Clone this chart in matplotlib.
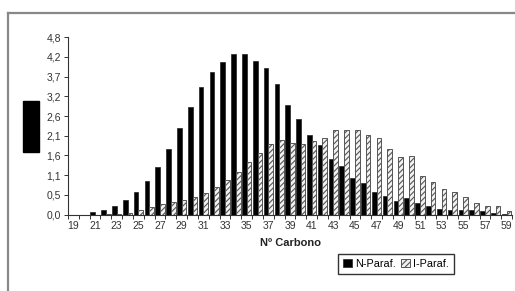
import numpy as np
import matplotlib
matplotlib.use("Agg")
import matplotlib.pyplot as plt
from matplotlib.lines import Line2D
from matplotlib.patches import Rectangle

plt.rcParams['font.family'] = ['Liberation Sans', 'DejaVu Sans']
plt.rcParams['hatch.linewidth'] = 0.8

carbons = list(range(19, 60))
n_paraf = [0, 0, 0.06, 0.13, 0.24, 0.40, 0.62, 0.91, 1.30, 1.77, 2.35, 2.92, 3.46,
           3.87, 4.14, 4.35, 4.35, 4.16, 3.98, 3.53, 2.96, 2.59, 2.14, 1.89, 1.51,
           1.31, 1.00, 0.85, 0.61, 0.51, 0.37, 0.44, 0.30, 0.22, 0.15, 0.13, 0.12,
           0.11, 0.09, 0.05, 0.02]
i_paraf = [0, 0, 0, 0.01, 0.02, 0.05, 0.11, 0.20, 0.28, 0.33, 0.38, 0.48, 0.58,
           0.74, 0.93, 1.14, 1.42, 1.66, 1.90, 2.02, 1.95, 1.90, 1.99, 2.07, 2.28,
           2.29, 2.29, 2.14, 2.07, 1.78, 1.57, 1.59, 1.05, 0.88, 0.69, 0.60, 0.48,
           0.32, 0.24, 0.22, 0.10]
y_ticks = [i * 4.8 / 9 for i in range(10)]
y_labels = ["0,0", "0,5", "1,1", "1,6", "2,1", "2,6", "3,2", "3,7", "4,2", "4,8"]
x_label = "Nº Carbono"
series_names = ["N-Paraf.", "I-Paraf."]

W, H = 515, 291
fig = plt.figure(figsize=(W / 100, H / 100), dpi=100)
ax = fig.add_axes([68 / W, 1 - 214.5 / H, (512 - 68) / W, (214.5 - 37.3) / H])

x = np.arange(len(carbons))
bw = 0.43
b1 = ax.bar(x - bw / 2, n_paraf, width=bw, color='black', edgecolor='#222222',
            linewidth=0.5, label=series_names[0])
b2 = ax.bar(x + bw / 2, i_paraf, width=bw, color='#f2f2f2', edgecolor='#555555',
            hatch='//////', linewidth=0.7, label=series_names[1])

ax.set_xlim(-0.5, len(carbons) - 0.5)
ax.set_ylim(0, 4.8)
ax.set_yticks(y_ticks)
ax.set_yticklabels(y_labels)
ax.set_xticks(x[::2])
ax.set_xticklabels([str(c) for c in carbons[::2]])
ax.set_xticks(np.arange(-0.5, len(carbons), 1), minor=True)
ax.tick_params(axis='x', which='major', length=0, pad=5, labelsize=7.5, colors='#333333')
ax.tick_params(axis='x', which='minor', length=3, width=0.7, color='#333333')
ax.tick_params(axis='y', length=3, width=0.7, pad=2, labelsize=7.5, colors='#333333')
for s in ['top', 'right']:
    ax.spines[s].set_visible(False)
for s in ['left', 'bottom']:
    ax.spines[s].set_color('#333333')
    ax.spines[s].set_linewidth(0.8)

fig.text(290 / W, 1 - 243 / H, x_label, ha='center', va='center',
         fontsize=8, fontweight='bold', color='#222222')

fig.legend(handles=[b1, b2], labels=series_names, loc='center',
           bbox_to_anchor=(396 / W, 1 - 264 / H), ncol=2, fontsize=7.8,
           frameon=True, fancybox=False, edgecolor='#333333', framealpha=1,
           handlelength=0.8, handleheight=0.8, handletextpad=0.3,
           columnspacing=0.5, borderpad=0.5, borderaxespad=0)

# y-axis title placeholder (black box)
fig.add_artist(Rectangle((22.5 / W, 1 - 152 / H), 16.5 / W, 51 / H,
                         transform=fig.transFigure, color='black'))
# frame lines
fig.add_artist(Line2D([8 / W, 1], [1 - 13 / H, 1 - 13 / H], transform=fig.transFigure,
                      color='#888888', linewidth=1.6))
fig.add_artist(Line2D([8 / W, 8 / W], [0, 1 - 13 / H], transform=fig.transFigure,
                      color='#888888', linewidth=1.6))

fig.savefig("out.png", dpi=100)
